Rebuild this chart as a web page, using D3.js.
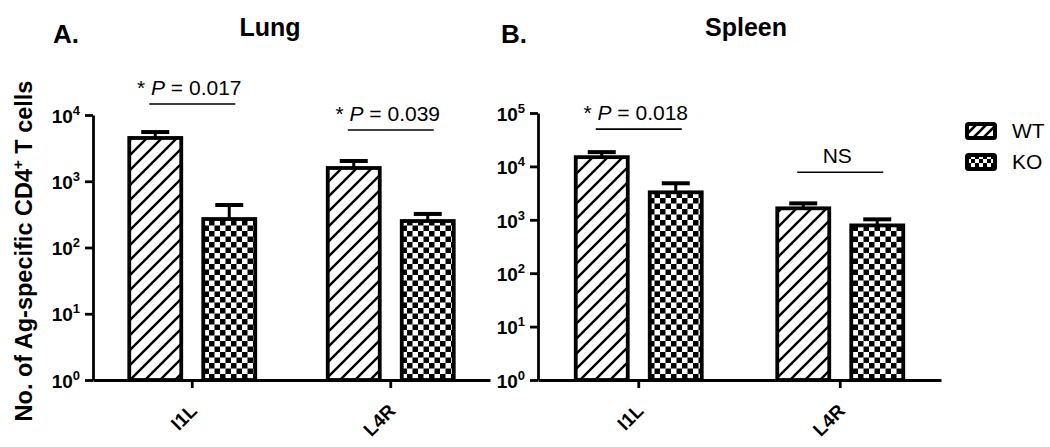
<!DOCTYPE html>
<html>
<head>
<meta charset="utf-8">
<script src="https://cdn.jsdelivr.net/npm/d3@7"></script>
<style>
body { margin: 0; background: #fff; }
svg { display: block; font-family: "Liberation Sans", Arial, sans-serif; }
</style>
</head>
<body>
<svg id="chart" width="1050" height="447"></svg>
<script>
var groups = ["I1L", "L4R"];
var seriesNames = ["WT", "KO"];

var lungWT = [4500, 1585];
var lungWTup = [5530, 2020];
var lungKO = [269, 251];
var lungKOup = [438, 321];
var lungP = ["0.017", "0.039"];
var lungBracket = [14650, 5940];
var lungTicks = [1, 10, 100, 1000, 10000];

var spleenWT = [14900, 1640];
var spleenWTup = [18500, 2030];
var spleenKO = [3270, 785];
var spleenKOup = [4830, 1020];
var spleenP = ["0.018", null];   // null -> NS
var spleenBracket = [50000, 7780];
var spleenTicks = [1, 10, 100, 1000, 10000, 100000];

var svg = d3.select("#chart");
var defs = svg.append("defs");

function hatchPattern(id, s, w)
{
   var p = defs.append("pattern").attr("id", id)
               .attr("patternUnits", "userSpaceOnUse")
               .attr("width", s).attr("height", s);
   p.append("rect").attr("width", s).attr("height", s).attr("fill", "#fff");
   p.append("path")
    .attr("d", "M-4,4L4,-4M0," + s + "L" + s + ",0M" + (s - 4) + "," + (s + 4) + "L" + (s + 4) + "," + (s - 4))
    .attr("stroke", "#000").attr("stroke-width", w);
}
function checkPattern(id, c)
{
   var p = defs.append("pattern").attr("id", id)
               .attr("patternUnits", "userSpaceOnUse")
               .attr("width", 2 * c).attr("height", 2 * c);
   p.append("rect").attr("width", 2 * c).attr("height", 2 * c).attr("fill", "#fff");
   p.append("rect").attr("width", c).attr("height", c).attr("fill", "#000");
   p.append("rect").attr("x", c).attr("y", c).attr("width", c).attr("height", c).attr("fill", "#000");
}
hatchPattern("hatch", 15, 2.4);
hatchPattern("hatchSmall", 10, 2.6);
checkPattern("check", 5.5);
checkPattern("checkSmall", 4);

var fills = { WT: "url(#hatch)", KO: "url(#check)" };

function drawPanel(cfg)
{
   var g = svg.append("g");
   var y = d3.scaleLog().domain([1, d3.max(cfg.ticks)]).range([380, cfg.yTop]);
   var x = d3.scaleBand().domain(groups).range([cfg.x0, cfg.x1]);
   var bw = 52, off = 37;

   var rows = [];
   groups.forEach(function (grp, i) {
      rows.push({ g: grp, i: i, s: "WT", v: cfg.wt[i], up: cfg.wtUp[i], dx: -off });
      rows.push({ g: grp, i: i, s: "KO", v: cfg.ko[i], up: cfg.koUp[i], dx: off });
   });
   function cx(d) { return x(d.g) + x.bandwidth() / 2 + d.dx; }

   // bars
   g.selectAll(".bar")
    .data(rows)
    .enter()
    .append("rect")
    .attr("x", function (d) { return cx(d) - bw / 2; })
    .attr("y", function (d) { return y(d.v); })
    .attr("width", bw)
    .attr("height", function (d) { return y(1) - y(d.v); })
    .attr("fill", function (d) { return fills[d.s]; })
    .attr("stroke", "#000")
    .attr("stroke-width", 3.8);

   // error bars (upper only)
   g.selectAll(".err")
    .data(rows)
    .enter()
    .append("line")
    .attr("x1", cx).attr("x2", cx)
    .attr("y1", function (d) { return y(d.v); })
    .attr("y2", function (d) { return y(d.up); })
    .attr("stroke", "#000").attr("stroke-width", 3);
   g.selectAll(".cap")
    .data(rows)
    .enter()
    .append("line")
    .attr("x1", function (d) { return cx(d) - 14; })
    .attr("x2", function (d) { return cx(d) + 14; })
    .attr("y1", function (d) { return y(d.up); })
    .attr("y2", function (d) { return y(d.up); })
    .attr("stroke", "#000").attr("stroke-width", 4);

   // y axis
   var ya = g.append("g")
             .attr("transform", "translate(" + cfg.x0 + ",0)")
             .call(d3.axisLeft(y).tickValues(cfg.ticks).tickSize(8).tickSizeOuter(0).tickFormat(""));
   ya.selectAll("path,line").attr("stroke", "#000").attr("stroke-width", 2.8);
   ya.selectAll(".tick text").remove();
   ya.selectAll(".tick").each(function (d) {
      var t = d3.select(this).append("text")
                .attr("x", -13).attr("dy", "0.38em")
                .attr("text-anchor", "end")
                .attr("fill", "#000")
                .style("font-size", "19px").style("font-weight", "bold")
                .style("font-family", "'Liberation Sans', Arial, sans-serif");
      t.append("tspan").text("10");
      t.append("tspan").attr("dy", -8).style("font-size", "13px").text(Math.round(Math.log10(d)));
   });

   // x axis
   var xa = g.append("g")
             .attr("transform", "translate(0,380)")
             .call(d3.axisBottom(x).tickSize(8).tickSizeOuter(0).tickFormat(""));
   xa.selectAll("path,line").attr("stroke", "#000").attr("stroke-width", 2.8);
   xa.selectAll(".tick text").remove();
   xa.selectAll(".tick").each(function (d) {
      d3.select(this).append("text")
        .attr("transform", "translate(6,32) rotate(-45)")
        .attr("text-anchor", "end")
        .attr("fill", "#000")
        .style("font-size", "19px").style("font-weight", "bold")
        .style("font-family", "'Liberation Sans', Arial, sans-serif")
        .text(d);
   });

   // significance brackets
   groups.forEach(function (grp, i) {
      var c = x(grp) + x.bandwidth() / 2;
      var by = y(cfg.bracket[i]);
      g.append("line")
       .attr("x1", c - 43).attr("x2", c + 43)
       .attr("y1", by).attr("y2", by)
       .attr("stroke", "#000").attr("stroke-width", 1.6);
      var t = g.append("text")
               .attr("x", c - 3).attr("y", by - 9)
               .attr("text-anchor", "middle")
               .attr("font-size", 21);
      if (cfg.p[i] == null)
         t.text("NS");
      else {
         t.append("tspan").text("* ");
         t.append("tspan").attr("font-style", "italic").text("P");
         t.append("tspan").text(" = " + cfg.p[i]);
      }
   });

   // titles
   g.append("text")
    .attr("x", cfg.letterX).attr("y", 43)
    .attr("font-size", 26).attr("font-weight", "bold")
    .text(cfg.letter);
   g.append("text")
    .attr("x", cfg.titleX).attr("y", 36)
    .attr("text-anchor", "middle")
    .attr("font-size", 25).attr("font-weight", "bold")
    .text(cfg.title);
}

drawPanel({ letter: "A.", title: "Lung", letterX: 53, titleX: 270,
            x0: 93, x1: 490, yTop: 115, ticks: lungTicks,
            wt: lungWT, wtUp: lungWTup, ko: lungKO, koUp: lungKOup,
            p: lungP, bracket: lungBracket });
drawPanel({ letter: "B.", title: "Spleen", letterX: 501, titleX: 746,
            x0: 538, x1: 941, yTop: 113, ticks: spleenTicks,
            wt: spleenWT, wtUp: spleenWTup, ko: spleenKO, koUp: spleenKOup,
            p: spleenP, bracket: spleenBracket });

// y axis title
svg.append("text")
   .attr("transform", "translate(32,251) rotate(-90)")
   .attr("text-anchor", "middle")
   .attr("font-size", 23.5).attr("font-weight", "bold")
   .call(function (t) {
      t.append("tspan").text("No. of Ag-specific CD4");
      t.append("tspan").attr("dy", -9).attr("font-size", 15).text("+");
      t.append("tspan").attr("dy", 9).text(" T cells");
   });

// legend
var legend = svg.append("g")
                .selectAll("g")
                .data(seriesNames)
                .enter()
                .append("g")
                .attr("transform", function (d, i) { return "translate(967," + (124 + i * 31) + ")"; });
legend.append("rect")
      .attr("width", 28).attr("height", 14).attr("rx", 1.5)
      .attr("fill", function (d) { return d == "WT" ? "url(#hatchSmall)" : "url(#checkSmall)"; })
      .attr("stroke", "#000").attr("stroke-width", 4);
legend.append("text")
      .attr("x", 45).attr("y", 14)
      .attr("font-size", 21)
      .text(function (d) { return d; });
</script>
</body>
</html>
